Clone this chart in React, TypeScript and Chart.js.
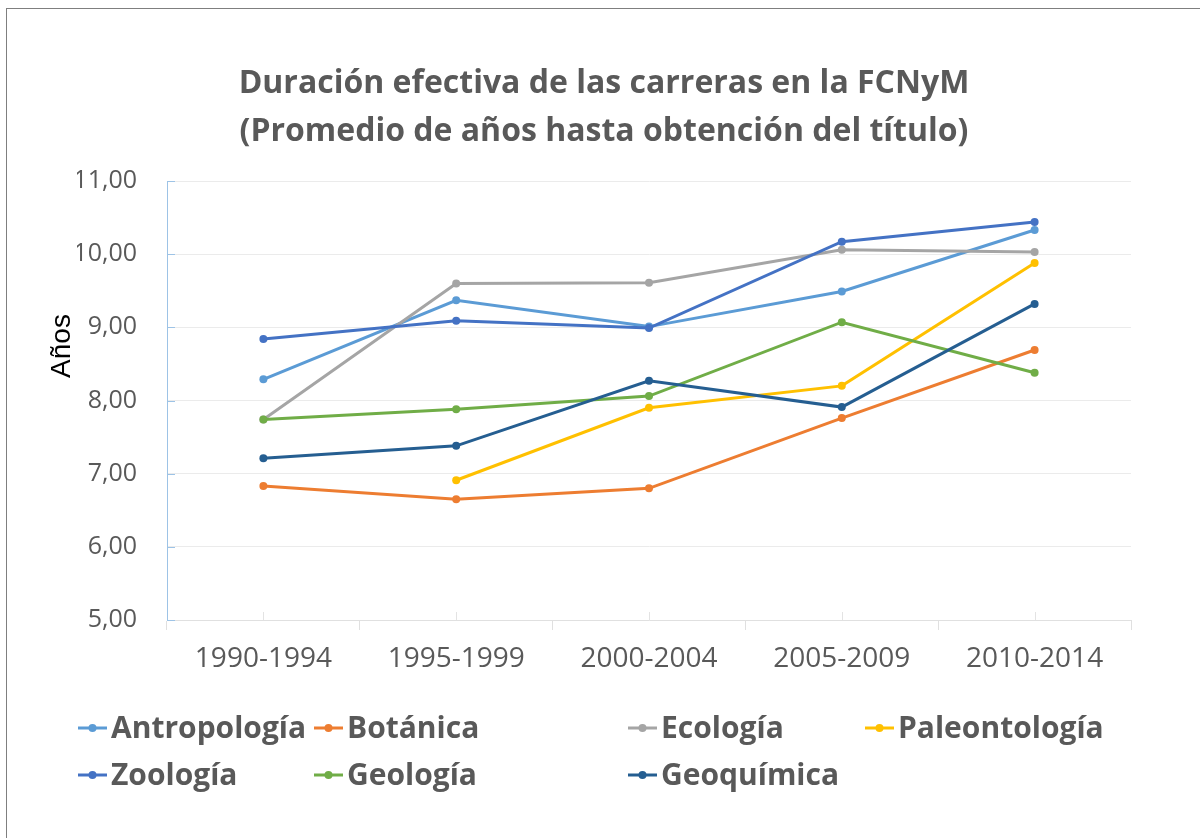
import React, { useEffect, useRef } from "react";
import { Chart, registerables } from "chart.js";

Chart.register(...registerables);

const categories = ["1990-1994", "1995-1999", "2000-2004", "2005-2009", "2010-2014"];
const antropologia = [8.29, 9.37, 9.01, 9.49, 10.33];
const botanica = [6.83, 6.65, 6.8, 7.76, 8.69];
const ecologia = [7.74, 9.6, 9.61, 10.06, 10.03];
const paleontologia = [null, 6.91, 7.9, 8.2, 9.88];
const zoologia = [8.84, 9.09, 8.99, 10.17, 10.44];
const geologia = [7.74, 7.88, 8.06, 9.07, 8.38];
const geoquimica = [7.21, 7.38, 8.27, 7.91, 9.32];

const seriesNames = ["Antropología", "Botánica", "Ecología", "Paleontología", "Zoología", "Geología", "Geoquímica"];
const seriesValues = [antropologia, botanica, ecologia, paleontologia, zoologia, geologia, geoquimica];
const seriesColors = ["#5B9BD5", "#ED7D31", "#A5A5A5", "#FFC000", "#4472C4", "#70AD47", "#255E91"];

const yMin = 5;
const yMax = 11;
const yStep = 1;
const titleLines = ["Duración efectiva de las carreras en la FCNyM", "(Promedio de años hasta obtención del título)"];
const yAxisTitle = "Años";

const FONT = "'Open Sans', Lato, sans-serif";
const TEXT_GRAY = "#595959";
const LEGEND_COLS = [78, 314, 628, 865];
const LEGEND_ROWS = [728, 775];

const legendPlugin = {
  id: "excelLegend",
  afterDraw(chart: any) {
    const ctx = chart.ctx;
    ctx.save();
    ctx.font = `bold 30px ${FONT}`;
    ctx.textBaseline = "middle";
    ctx.textAlign = "left";
    chart.data.datasets.forEach((ds: any, i: number) => {
      const x = LEGEND_COLS[i % 4];
      const y = LEGEND_ROWS[Math.floor(i / 4)];
      ctx.strokeStyle = ds.borderColor;
      ctx.lineWidth = 3;
      ctx.beginPath();
      ctx.moveTo(x, y);
      ctx.lineTo(x + 29, y);
      ctx.stroke();
      ctx.fillStyle = ds.borderColor;
      ctx.beginPath();
      ctx.arc(x + 14.5, y, 4, 0, Math.PI * 2);
      ctx.fill();
      ctx.fillStyle = TEXT_GRAY;
      ctx.fillText(ds.label, x + 33, y + 1);
    });
    ctx.restore();
  },
};

const axisDecorPlugin = {
  id: "axisDecor",
  afterDraw(chart: any) {
    const ctx = chart.ctx;
    const area = chart.chartArea;
    const yScale = chart.scales.y;
    const xScale = chart.scales.x;
    ctx.save();
    ctx.lineWidth = 1;
    ctx.strokeStyle = "#E3E3E3";
    xScale.ticks.forEach((_t: any, i: number) => {
      const px = Math.round(xScale.getPixelForTick(i)) + 0.5;
      ctx.beginPath();
      ctx.moveTo(px, area.bottom - 8);
      ctx.lineTo(px, area.bottom);
      ctx.stroke();
    });
    ctx.strokeStyle = "#9DC3E6";
    yScale.ticks.forEach((t: any) => {
      const py = Math.round(yScale.getPixelForValue(t.value)) + 0.5;
      ctx.beginPath();
      ctx.moveTo(area.left, py);
      ctx.lineTo(area.left + 8, py);
      ctx.stroke();
    });
    ctx.translate(62, 346);
    ctx.rotate(-Math.PI / 2);
    ctx.font = "28px 'Liberation Sans', Arial, sans-serif";
    ctx.fillStyle = "#000000";
    ctx.textAlign = "center";
    ctx.textBaseline = "middle";
    ctx.fillText(yAxisTitle, 0, 0);
    ctx.restore();
  },
};

export default function App() {
  const canvasRef = useRef<HTMLCanvasElement | null>(null);

  useEffect(() => {
    if (!canvasRef.current) return;
    const n = seriesNames.length;
    const chart = new Chart(canvasRef.current, {
      type: "line",
      data: {
        labels: categories,
        datasets: seriesNames.map((name, i) => ({
          label: name,
          data: seriesValues[i],
          borderColor: seriesColors[i],
          backgroundColor: seriesColors[i],
          pointBackgroundColor: seriesColors[i],
          pointBorderColor: seriesColors[i],
          borderWidth: 3,
          pointRadius: 4,
          pointBorderWidth: 0,
          tension: 0,
          fill: false,
          order: n - i,
        })),
      },
      options: {
        animation: false,
        responsive: false,
        maintainAspectRatio: false,
        layout: { padding: { left: 77, right: 69, top: 0, bottom: 0 } },
        plugins: {
          legend: { display: false },
          tooltip: { enabled: false },
          title: {
            display: true,
            text: titleLines,
            color: TEXT_GRAY,
            font: { family: FONT, size: 32, weight: "bold", lineHeight: 1.5 },
            padding: { top: 60, bottom: 25 },
          },
        },
        scales: {
          x: {
            offset: true,
            grid: {
              display: true,
              offset: true,
              drawOnChartArea: false,
              drawTicks: true,
              tickLength: 10,
              color: "#E0E0E0",
            },
            border: { display: true, color: "#E0E0E0", width: 1 },
            ticks: {
              color: TEXT_GRAY,
              font: { family: FONT, size: 28 },
              padding: 12,
              maxRotation: 0,
            },
            afterFit: (scale: any) => {
              scale.height = 218;
            },
          },
          y: {
            min: yMin,
            max: yMax,
            ticks: {
              stepSize: yStep,
              color: TEXT_GRAY,
              font: { family: FONT, size: 25 },
              padding: 30,
              callback: (v: any) => Number(v).toFixed(2).replace(".", ","),
            },
            grid: { color: "#EBEBEB", drawTicks: false, lineWidth: 1 },
            border: { display: true, color: "#9DC3E6", width: 1 },
            afterFit: (scale: any) => {
              scale.width = 90;
            },
          },
        },
      },
      plugins: [legendPlugin, axisDecorPlugin],
    });
    return () => chart.destroy();
  }, []);

  return (
    <div style={{ position: "absolute", left: 0, top: 0, width: 1200, height: 838, background: "#ffffff", overflow: "hidden" }}>
      <div
        style={{
          position: "absolute",
          left: 6,
          top: 8,
          width: 1300,
          height: 900,
          borderLeft: "1px solid #7F7F7F",
          borderTop: "1px solid #7F7F7F",
        }}
      />
      <canvas ref={canvasRef} width={1200} height={838} style={{ position: "absolute", left: 0, top: 0 }} />
    </div>
  );
}
